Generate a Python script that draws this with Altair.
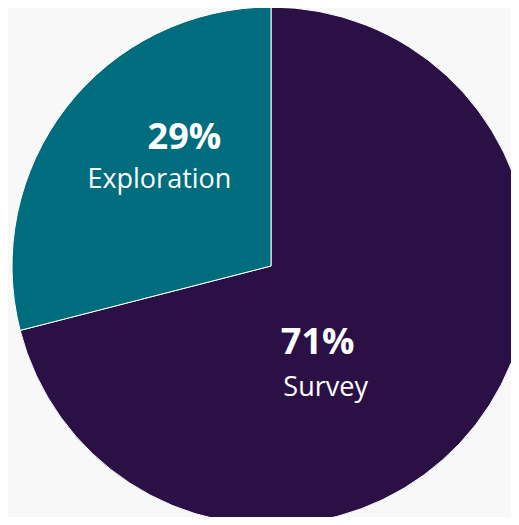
import altair as alt
import pandas as pd

categories = ["Survey", "Exploration"]
shares = [71, 29]
colors = ["#2a1045", "#006d7e"]

df = pd.DataFrame({"category": categories, "share": shares})

FONT = "Open Sans"
CX, CY = 263, 258

base = (
    alt.Chart(df)
    .transform_window(end="sum(share)", frame=[None, 0])
    .transform_calculate(
        start="datum.end - datum.share",
        mid="datum.end - datum.share / 2",
        pct="datum.share + '%'",
    )
)

theta_scale = alt.Scale(domain=[0, 100])

arcs = base.mark_arc(
    outerRadius=259, stroke="white", strokeWidth=1, x=CX, y=CY
).encode(
    theta=alt.Theta("start:Q", scale=theta_scale),
    theta2="end:Q",
    color=alt.Color(
        "category:N", scale=alt.Scale(domain=categories, range=colors), legend=None
    ),
)


def label(cat, field, dx, dy, size, weight):
    return (
        base.transform_filter(alt.datum.category == cat)
        .mark_text(
            x=CX,
            y=CY,
            radius=140,
            dx=dx,
            dy=dy,
            fontSize=size,
            fontWeight=weight,
            font=FONT,
            color="white",
            align="center",
            baseline="middle",
        )
        .encode(theta=alt.Theta("mid:Q", scale=theta_scale), text=f"{field}:N")
    )


chart = (
    alt.layer(
        arcs,
        label("Exploration", "pct", 24, -42, 36, "bold"),
        label("Exploration", "category", -1, 0, 27, "normal"),
        label("Survey", "pct", -64, -9, 36, "bold"),
        label("Survey", "category", -56, 36, 27, "normal"),
    )
    .properties(width=503, height=509, padding=0, autosize="none", background="#f8f8f8")
    .configure_view(stroke=None)
)

chart.save("out.html", embed_options={"renderer": "svg", "actions": False})
